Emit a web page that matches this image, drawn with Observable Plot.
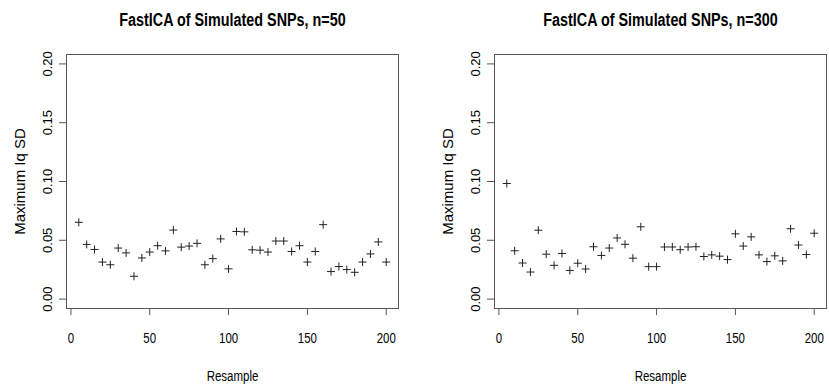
<!DOCTYPE html>
<html>
<head>
<meta charset="utf-8">
<script src="https://cdn.jsdelivr.net/npm/d3@7"></script>
<script src="https://cdn.jsdelivr.net/npm/@observablehq/plot@0.6"></script>
<style>
  html, body { margin: 0; padding: 0; background: #fff; }
  #wrap { position: relative; width: 829px; height: 385px; overflow: hidden; }
  .panel { position: absolute; top: 0; }
</style>
</head>
<body>
<div id="wrap">
  <div class="panel" id="p1" style="left:0px"></div>
  <div class="panel" id="p2" style="left:428px"></div>
</div>
<script>
// ---- data ----
const resample = [5, 10, 15, 20, 25, 30, 35, 40, 45, 50, 55, 60, 65, 70, 75, 80, 85, 90, 95, 100,
  105, 110, 115, 120, 125, 130, 135, 140, 145, 150, 155, 160, 165, 170, 175, 180, 185, 190, 195, 200];

const iqSdN50 = [0.0653, 0.0465, 0.0422, 0.0315, 0.0292, 0.0434, 0.0393, 0.0194, 0.0350, 0.0400,
  0.0454, 0.0410, 0.0587, 0.0442, 0.0451, 0.0474, 0.0292, 0.0344, 0.0512, 0.0257,
  0.0575, 0.0572, 0.0419, 0.0416, 0.0400, 0.0494, 0.0494, 0.0405, 0.0454, 0.0315,
  0.0405, 0.0633, 0.0234, 0.0277, 0.0251, 0.0228, 0.0315, 0.0384, 0.0486, 0.0315];

const iqSdN300 = [0.0983, 0.0411, 0.0307, 0.0230, 0.0586, 0.0382, 0.0287, 0.0388, 0.0244, 0.0305,
  0.0256, 0.0445, 0.0371, 0.0434, 0.0520, 0.0466, 0.0348, 0.0615, 0.0276, 0.0276,
  0.0443, 0.0443, 0.0420, 0.0443, 0.0445, 0.0362, 0.0376, 0.0365, 0.0336, 0.0555,
  0.0451, 0.0529, 0.0376, 0.0319, 0.0368, 0.0325, 0.0598, 0.0460, 0.0379, 0.0560];

const xTicks = [0, 50, 100, 150, 200];
const yTicks = [0.00, 0.05, 0.10, 0.15, 0.20];
const titles = ["FastICA of Simulated SNPs, n=50", "FastICA of Simulated SNPs, n=300"];
const xLabel = "Resample";
const yLabel = "Maximum Iq SD";

const font = "'Liberation Sans', Arial, Helvetica, sans-serif";

function panel(title, values) {
  const data = resample.map((r, i) => ({resample: r, iq: values[i]}));
  return Plot.plot({
    width: 401,
    height: 385,
    marginLeft: 66,
    marginRight: 3,
    marginTop: 54,
    marginBottom: 77,
    style: {fontFamily: font, color: "#000", background: "#fff", overflow: "visible"},
    x: {domain: [-2.8, 207.8], axis: null},
    y: {domain: [-0.008, 0.208], axis: null},
    marks: [
      Plot.frame({stroke: "#555", strokeWidth: 1}),
      Plot.axisX({ticks: xTicks, tickSize: 7, tickPadding: 18, fontSize: 14, className: "narrow",
                  stroke: "#555", fill: "#000", label: null, tickFormat: d3.format("d")}),
      Plot.axisY({ticks: yTicks, tickSize: 7, tickPadding: 8, tickRotate: -90, fontSize: 13,
                  stroke: "#555", fill: "#000", label: null, tickFormat: d3.format(".2f")}),
      Plot.dot(data, {x: "resample", y: "iq", symbol: "plus", r: 2.7, stroke: "#222", strokeWidth: 1}),
      Plot.text([title], {frameAnchor: "top", dy: -34, lineAnchor: "middle", textAnchor: "middle",
                          fontSize: 17.5, fontWeight: "bold", fill: "#000", className: "narrow"}),
      Plot.text([xLabel], {frameAnchor: "bottom", dy: 68, lineAnchor: "middle", textAnchor: "middle",
                           fontSize: 14, fill: "#000", className: "narrow"}),
      Plot.text([yLabel], {frameAnchor: "left", dx: -46, rotate: -90, lineAnchor: "middle", textAnchor: "middle",
                           fontSize: 15, fill: "#000"})
    ]
  });
}

function condense(svg, factor) {
  svg.querySelectorAll(".narrow text").forEach((t) => {
    const len = t.getComputedTextLength();
    if (len > 0) {
      t.setAttribute("textLength", (len * factor).toFixed(2));
      t.setAttribute("lengthAdjust", "spacingAndGlyphs");
    }
  });
}

const c1 = panel(titles[0], iqSdN50);
const c2 = panel(titles[1], iqSdN300);
document.getElementById("p1").appendChild(c1);
document.getElementById("p2").appendChild(c2);
condense(c1, 0.82);
condense(c2, 0.82);
</script>
</body>
</html>
